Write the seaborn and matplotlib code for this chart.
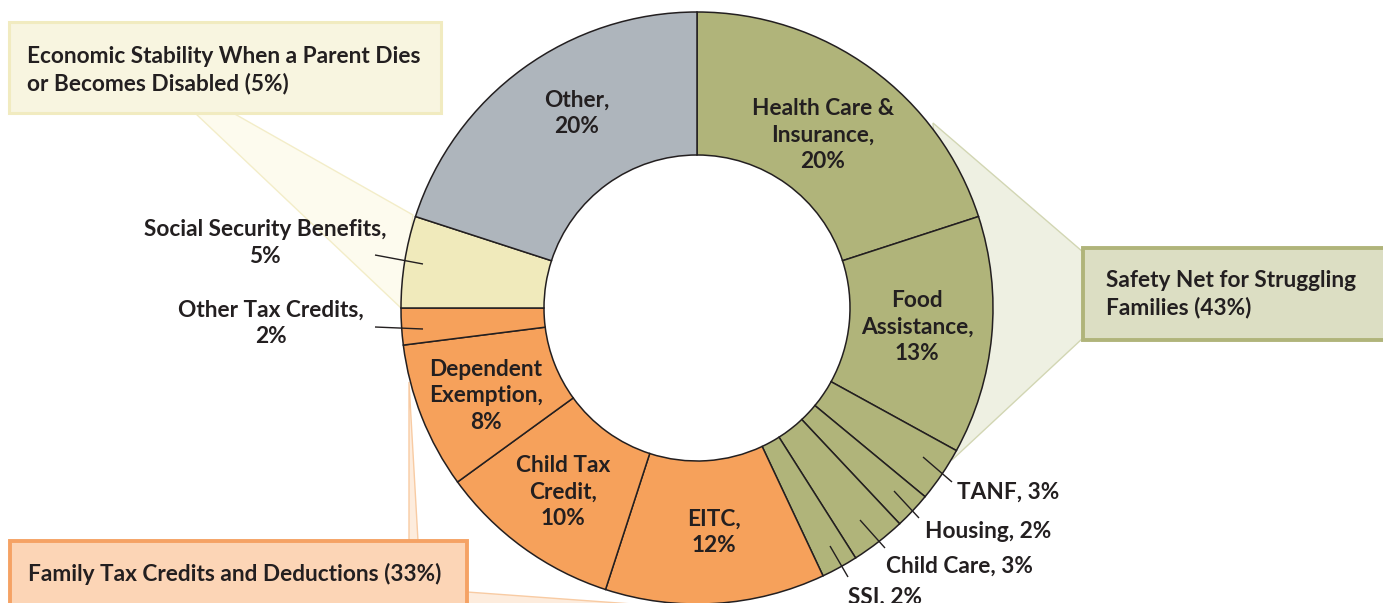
import matplotlib
matplotlib.use("Agg")
import matplotlib.pyplot as plt
from matplotlib.patches import Rectangle, Polygon
import seaborn as sns

# Spending shares, clockwise from the top of the ring
categories = [
    "Health Care &\nInsurance", "Food\nAssistance", "TANF", "Housing",
    "Child Care", "SSI", "EITC", "Child Tax\nCredit", "Dependent\nExemption",
    "Other Tax Credits", "Social Security Benefits", "Other",
]
shares = [20, 13, 3, 2, 3, 2, 12, 10, 8, 2, 5, 20]
groups = ["safety", "safety", "safety", "safety", "safety", "safety",
          "family", "family", "family", "family", "econ", "other"]

group_titles = {
    "safety": "Safety Net for Struggling\nFamilies",
    "family": "Family Tax Credits and Deductions",
    "econ": "Economic Stability When a Parent Dies\nor Becomes Disabled",
}
group_shares = {"safety": 43, "family": 33, "econ": 5}

palette = {"safety": "#B0B47A", "family": "#F6A15B", "econ": "#F0EABB", "other": "#AEB5BC"}
INK = "#231F20"

W, H = 1383, 603
sns.set_theme(style="white")
plt.rcParams["font.family"] = ["Lato", "DejaVu Sans"]

fig = plt.figure(figsize=(W / 100, H / 100), dpi=100)
ax = fig.add_axes([0, 0, 1, 1])


def Y(py):
    """Convert a top-down layout coordinate to the axes' y."""
    return H - py


FS = 16.3
LS = 1.32

# Callout fans behind the ring
fan_style = {
    "safety": dict(fc="#EEF0E2", ec="#D2D6B3"),
    "econ": dict(fc="#FDFBEE", ec="#F3EDC8"),
    "family": dict(fc="#FDECDD", ec="#F8CBA3"),
}
fans = {
    "safety": [(933, 123), (1083, 252), (1083, 338), (952, 460)],
    "econ": [(195, 113), (233, 113), (413, 215), (401, 308)],
    "family": [(409, 382), (418, 541), (467, 592), (660, 606), (409, 606)],
}
for key, pts in fans.items():
    ax.add_patch(Polygon([(x, Y(y)) for x, y in pts], closed=True, lw=1,
                         zorder=1, **fan_style[key]))

# Donut ring
cx, cy, r_out, ring = 697, 308, 296, 143
wedges, _ = ax.pie(
    shares, colors=[palette[g] for g in groups], startangle=90, counterclock=False,
    center=(cx, Y(cy)), radius=r_out, frame=False,
    wedgeprops=dict(width=ring, edgecolor=INK, linewidth=1.1),
)
for w in wedges:
    w.set_zorder(3)

# Group boxes
boxes = {
    "econ": dict(xy=(9, 22), w=432, h=91, fc="#F8F5E0", ec="#F1EBC0", lw=2.2,
                 tx=27, ty=70),
    "safety": dict(xy=(1083, 248), w=320, h=92, fc="#DCDEC3", ec="#B0B47A", lw=2.8,
                   tx=1106, ty=294),
    "family": dict(xy=(10, 541), w=457, h=80, fc="#FCD5B6", ec="#F5A264", lw=2.8,
                   tx=28, ty=574),
}
for key, b in boxes.items():
    x0, y0 = b["xy"]
    ax.add_patch(Rectangle((x0, Y(y0 + b["h"])), b["w"], b["h"], fc=b["fc"],
                           ec=b["ec"], lw=b["lw"], zorder=4))
    ax.text(b["tx"], Y(b["ty"]), f"{group_titles[key]} ({group_shares[key]}%)",
            ha="left", va="center", fontsize=FS, fontweight="bold", color=INK,
            linespacing=LS, zorder=5)

# Labels inside the ring
inside = {
    "Other": (577, 113),
    "Health Care &\nInsurance": (823, 135),
    "Food\nAssistance": (917, 327),
    "Dependent\nExemption": (486, 396),
    "Child Tax\nCredit": (563, 492),
    "EITC": (714, 532),
}
for name, (x, y) in inside.items():
    v = shares[categories.index(name)]
    ax.text(x, Y(y), f"{name},\n{v}%", ha="center", va="center",
            multialignment="center", fontsize=FS, fontweight="bold", color=INK,
            linespacing=LS, zorder=6)

# Labels outside the ring with leader lines
outside = {
    "Social Security Benefits": dict(text=(265, 243), ha="center", two=True,
                                     line=[(375, 255), (423, 264)]),
    "Other Tax Credits": dict(text=(271, 323), ha="center", two=True,
                              line=[(375, 327), (423, 329)]),
    "TANF": dict(text=(957, 492), ha="left", two=False,
                 line=[(923, 457), (952, 482)]),
    "Housing": dict(text=(925, 531), ha="left", two=False,
                    line=[(894, 491), (919, 518)]),
    "Child Care": dict(text=(886, 566), ha="left", two=False,
                       line=[(860, 520), (885, 548)]),
    "SSI": dict(text=(848, 597), ha="left", two=False,
                line=[(830, 546), (848, 577)]),
}
for name, o in outside.items():
    v = shares[categories.index(name)]
    sep = "\n" if o["two"] else " "
    x, y = o["text"]
    ax.text(x, Y(y), f"{name},{sep}{v}%", ha=o["ha"], va="center",
            multialignment="center", fontsize=FS, fontweight="bold", color=INK,
            linespacing=LS, zorder=6)
    (x1, y1), (x2, y2) = o["line"]
    ax.plot([x1, x2], [Y(y1), Y(y2)], color=INK, lw=1.0, zorder=6,
            solid_capstyle="butt")

ax.set_xlim(0, W)
ax.set_ylim(0, H)
ax.set_aspect("equal")
ax.set_axis_off()

fig.savefig("out.png", dpi=100, facecolor="white")
